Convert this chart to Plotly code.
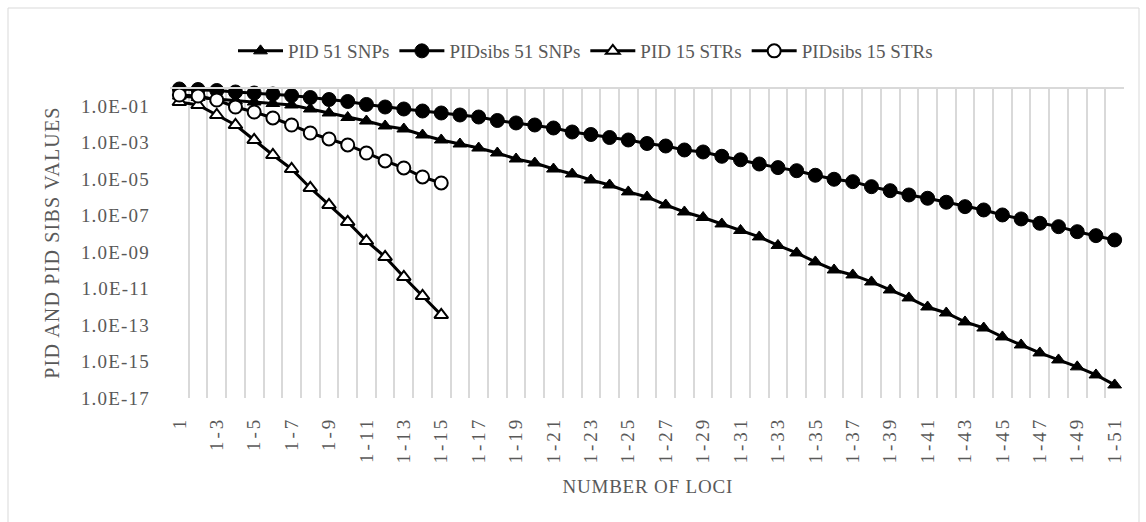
import plotly.graph_objects as go

categories = ["1", "1-2", "1-3", "1-4", "1-5", "1-6", "1-7", "1-8", "1-9", "1-10",
              "1-11", "1-12", "1-13", "1-14", "1-15", "1-16", "1-17", "1-18", "1-19", "1-20",
              "1-21", "1-22", "1-23", "1-24", "1-25", "1-26", "1-27", "1-28", "1-29", "1-30",
              "1-31", "1-32", "1-33", "1-34", "1-35", "1-36", "1-37", "1-38", "1-39", "1-40",
              "1-41", "1-42", "1-43", "1-44", "1-45", "1-46", "1-47", "1-48", "1-49", "1-50",
              "1-51"]

pid_51_snps = [0.364, 0.301, 0.249, 0.206, 0.171, 0.141, 0.117, 0.0706, 0.0426, 0.0241,
               0.0155, 0.00826, 0.00565, 0.00265, 0.00141, 8.5e-4, 5.1e-4, 2.73e-4, 1.28e-4, 7.7e-5,
               3.6e-5, 1.93e-5, 9.0e-6, 4.8e-6, 2.0e-6, 1.06e-6, 3.85e-7, 1.59e-7, 7.9e-8, 3.5e-8,
               1.54e-8, 6.8e-9, 2.32e-9, 9.0e-10, 2.89e-10, 1.05e-10, 5.6e-11, 2.31e-11, 8.4e-12, 3.07e-12,
               9.8e-13, 4.6e-13, 1.48e-13, 6.9e-14, 2.23e-14, 8.1e-15, 2.96e-15, 1.22e-15, 5.1e-16, 1.84e-16,
               5.2e-17]

pidsibs_51_snps = [0.882, 0.827, 0.729, 0.604, 0.532, 0.469, 0.388, 0.301, 0.234, 0.182,
                   0.125, 0.0908, 0.0706, 0.0548, 0.0426, 0.0331, 0.0257, 0.0165, 0.0121, 0.00937,
                   0.00641, 0.00387, 0.00282, 0.00193, 0.00141, 9.06e-4, 6.6e-4, 3.99e-4, 3.1e-4, 1.80e-4,
                   1.16e-4, 6.8e-5, 4.3e-5, 2.92e-5, 1.64e-5, 9.9e-6, 7.3e-6, 3.88e-6, 2.34e-6, 1.36e-6,
                   8.97e-7, 5.42e-7, 3.11e-7, 2.05e-7, 1.09e-7, 6.6e-8, 3.82e-8, 2.49e-8, 1.32e-8, 8.0e-9,
                   4.65e-9]

pid_15_strs = [0.171, 0.117, 0.0331, 0.00937, 0.00141, 2.12e-4, 3.62e-5, 3.30e-6, 3.85e-7, 4.51e-8,
               4.09e-9, 5.43e-10, 4.35e-11, 3.94e-12, 3.59e-13]

pidsibs_15_strs = [0.413, 0.364, 0.220, 0.0908, 0.0483, 0.0227, 0.00937, 0.00341, 0.0016, 7.5e-4,
                   2.73e-4, 9.95e-5, 4.11e-5, 1.32e-5, 6.19e-6]

series_names = ["PID 51 SNPs", "PIDsibs 51 SNPs", "PID 15 STRs", "PIDsibs 15 STRs"]

y_tick_vals = [1e-1, 1e-3, 1e-5, 1e-7, 1e-9, 1e-11, 1e-13, 1e-15, 1e-17]
y_tick_text = ["1.0E-01", "1.0E-03", "1.0E-05", "1.0E-07", "1.0E-09",
               "1.0E-11", "1.0E-13", "1.0E-15", "1.0E-17"]

x_tick_text = [c if i % 2 == 0 else "" for i, c in enumerate(categories)]

FONT = "Liberation Serif, Times New Roman, serif"
GRAY = "#595959"

W, H = 1146, 522
L, R, T, B = 170, 22, 88, 124
PW, PH = W - L - R, H - T - B


def px_x(px):
    return (px - L) / PW


def px_y(py):
    return (H - B - py) / PH


fig = go.Figure()

styles = [
    dict(symbol="triangle-up", size=12, color="black", line=dict(color="black", width=1)),
    dict(symbol="circle", size=14, color="black", line=dict(color="black", width=1)),
    dict(symbol="triangle-up", size=12, color="white", line=dict(color="black", width=2)),
    dict(symbol="circle", size=13, color="white", line=dict(color="black", width=2)),
]
data = [pid_51_snps, pidsibs_51_snps, pid_15_strs, pidsibs_15_strs]

for name, vals, mk in zip(series_names, data, styles):
    fig.add_trace(go.Scatter(
        x=categories[:len(vals)], y=vals, name=name, mode="lines+markers",
        line=dict(color="black", width=3), marker=mk, cliponaxis=False,
    ))

fig.update_layout(
    width=W, height=H,
    margin=dict(l=L, r=R, t=T, b=B),
    paper_bgcolor="white", plot_bgcolor="white",
    font=dict(family=FONT, color=GRAY, size=19),
    showlegend=True,
    legend=dict(orientation="h", x=px_x(233), xanchor="left", y=px_y(51), yanchor="middle",
                font=dict(family=FONT, size=19, color=GRAY), itemwidth=45, tracegroupgap=0,
                bgcolor="rgba(0,0,0,0)"),
    xaxis=dict(type="category", categoryorder="array", categoryarray=categories,
               range=[-0.5, len(categories) - 0.5],
               tickmode="array", tickvals=categories, ticktext=x_tick_text,
               tickson="boundaries", ticks="", showgrid=True, gridcolor="#d9d9d9", gridwidth=2,
               tickangle=-90, tickfont=dict(family=FONT, size=19, color=GRAY),
               ticklabelstandoff=14, showline=False, zeroline=False),
    yaxis=dict(type="log", range=[-17, 0], tickmode="array", tickvals=y_tick_vals, ticktext=y_tick_text,
               showgrid=False, ticks="", showline=False, zeroline=False,
               tickfont=dict(family=FONT, size=19, color=GRAY), ticklabelstandoff=19),
    shapes=[
        dict(type="line", xref="paper", yref="paper", x0=0, x1=1, y0=1, y1=1,
             line=dict(color="#d9d9d9", width=2)),
        dict(type="rect", xref="paper", yref="paper", x0=px_x(8), x1=px_x(1139),
             y0=px_y(540), y1=px_y(8), line=dict(color="#d9d9d9", width=1), layer="below"),
    ],
    annotations=[
        dict(text="NUMBER OF LOCI", xref="paper", yref="paper", x=0.5, y=px_y(486),
             showarrow=False, xanchor="center", yanchor="middle",
             font=dict(family=FONT, size=19, color=GRAY)),
        dict(text="PID AND PID SIBS VALUES", xref="paper", yref="paper", x=px_x(52), y=0.5,
             showarrow=False, xanchor="center", yanchor="middle", textangle=-90,
             font=dict(family=FONT, size=20, color=GRAY)),
    ],
)

post_js = """
var gd = document.getElementById('{plot_id}');
function sp(sel, v) {
  gd.querySelectorAll(sel).forEach(function (t) { t.style.letterSpacing = v; });
}
sp('.xtick text', '3px');
sp('.ytick text', '1.2px');
sp('.annotation[data-index="0"] text', '0.8px');
sp('.annotation[data-index="1"] text', '1.2px');
"""

fig.write_html("out.html", post_script=post_js)
